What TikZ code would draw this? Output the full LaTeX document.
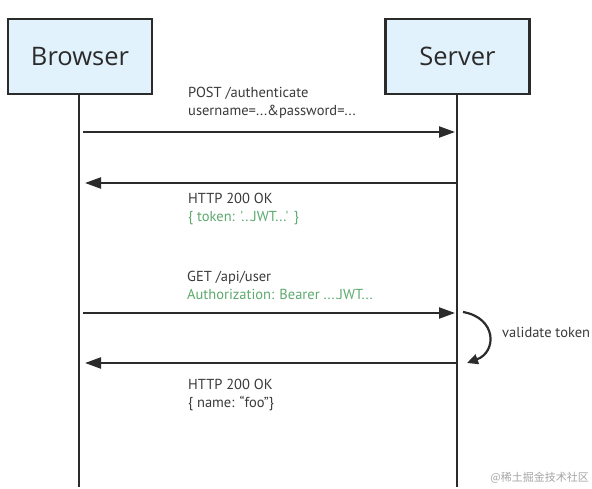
\documentclass[tikz,border=0pt]{standalone}
\usepackage{fontspec}
\setmainfont{Open Sans}
\newfontfamily\msgfont{PT Sans}
\newfontfamily\cjk{Noto Sans CJK SC}
\usetikzlibrary{arrows.meta}
\definecolor{boxfill}{HTML}{E2F2FD}
\definecolor{ink}{HTML}{2B2B2B}
\definecolor{txt}{HTML}{3A3A3A}
\definecolor{grn}{HTML}{5DAA6E}
\begin{document}
\begin{tikzpicture}[x=1pt,y=-1pt,
  actor/.style={draw=ink,line width=2.4pt,fill=boxfill,minimum width=144pt,minimum height=75pt,inner sep=0pt,font=\fontsize{25.5}{28}\selectfont,text=ink},
  life/.style={draw=ink,line width=2.2pt},
  msg/.style={draw=ink,line width=2.2pt,-{Triangle[length=16pt,width=11pt]}},
  lbl/.style={anchor=west,align=left,inner sep=0pt,font=\msgfont\fontsize{14.5}{18}\selectfont,text=txt},
  g/.style={text=grn}]
\useasboundingbox (0,0) rectangle (592,489);
\fill[white] (0,0) rectangle (592,489);
\node[actor] (B) at (80,56.5) {Browser};
\node[actor] (S) at (457.5,56.5) {Server};
\coordinate (Bend) at (79,487);
\coordinate (Send) at (457,487);
\draw[life] (79,94) -- (Bend);
\draw[life] (457,94) -- (Send);
% message anchors
\coordinate (b1) at (83,132); \coordinate (s1) at (455,132);
\coordinate (s2) at (457,183); \coordinate (b2) at (85,183);
\coordinate (b3) at (83,313); \coordinate (s3) at (455,313);
\coordinate (s4) at (456,363); \coordinate (b4) at (85,363);
\draw[msg] (b1) -- (s1);
\draw[msg] (s2) -- (b2);
\draw[msg] (b3) -- (s3);
\draw[msg] (s4) -- (b4);
\node[lbl] (L1) at (188,102.5) {POST /authenticate\\username=...\&password=...};
\node[lbl] (L2) at (188,209) {HTTP 200 OK\\{\color{grn}\{ token: '...JWT...' \}}};
\node[lbl] (L3) at (187,285) {GET /api/user\\{\color{grn}Authorization: Bearer ....JWT...}};
\node[lbl] (L4) at (188,395) {HTTP 200 OK\\\{ name: “foo”\}};
% validate token
\coordinate (v1) at (463,312);
\coordinate (v2) at (467,363);
\draw[draw=ink,line width=2.2pt,-{Triangle[length=11pt,width=10pt]}] (v1) .. controls (497,318) and (497,352) .. (v2);
\node[lbl] (V) at (502,332) {validate token};
\node[anchor=east,inner sep=0pt,text=black!35,font=\cjk\fontsize{11}{13}\selectfont] (W) at (589,478) {@稀土掘金技术社区};
\end{tikzpicture}
\end{document}
